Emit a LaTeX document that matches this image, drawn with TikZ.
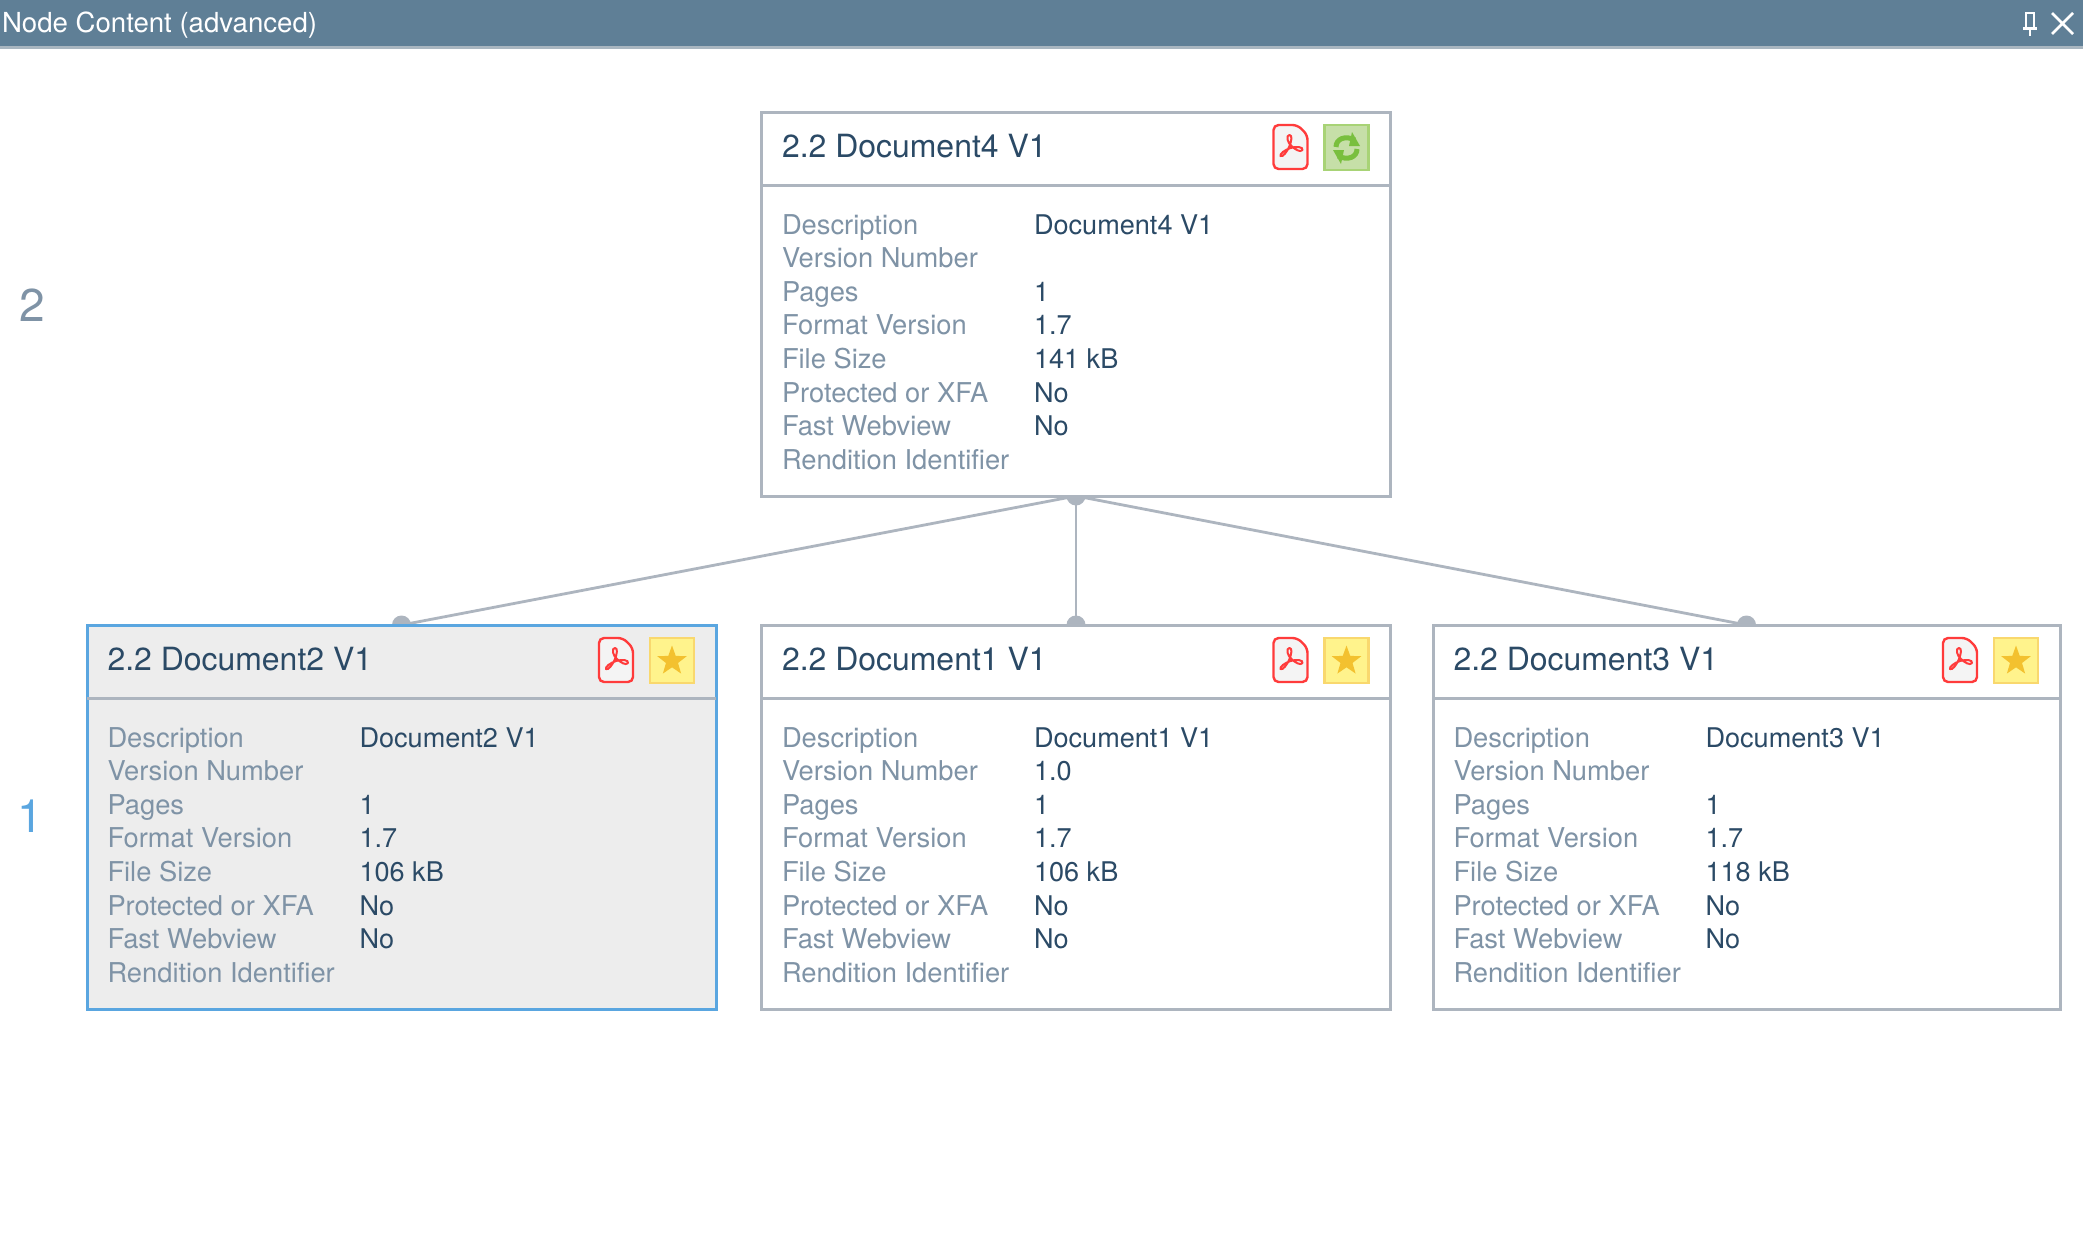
\documentclass[tikz,border=0pt]{standalone}
\usepackage{fontspec}
\setmainfont{TeX Gyre Heros}
\usetikzlibrary{shapes.geometric,backgrounds}
\definecolor{barblue}{HTML}{5F7F96}
\definecolor{barline}{HTML}{A9B6C0}
\definecolor{edgegray}{HTML}{ADB5BF}
\definecolor{selblue}{HTML}{5AA6E0}
\definecolor{selfill}{HTML}{EDEDED}
\definecolor{navy}{HTML}{2B4A66}
\definecolor{labgray}{HTML}{7F93A6}
\definecolor{pdfred}{HTML}{FF3B3B}
\definecolor{pdffill}{HTML}{F4F4F4}
\definecolor{starbox}{HTML}{FFF38C}
\definecolor{starline}{HTML}{F9D86E}
\definecolor{starfill}{HTML}{F3C12F}
\definecolor{greenbox}{HTML}{C6DFA8}
\definecolor{greenline}{HTML}{A8D376}
\definecolor{greenfill}{HTML}{79BF3E}
\tikzset{
  x=1pt,y=-1pt,
  docbox/.style={draw=edgegray,line width=3pt,fill=white,rectangle,anchor=north west,
    minimum width=629pt,minimum height=384pt,inner sep=0pt,outer sep=0pt},
  selbox/.style={docbox,draw=selblue,fill=selfill},
  txt/.style={inner sep=0pt,outer sep=0pt,anchor=base west},
  titletxt/.style={txt,text=navy,font=\fontsize{31.95}{32}\selectfont},
  labeltxt/.style={txt,text=labgray,font=\fontsize{27.3}{28}\selectfont},
  valuetxt/.style={txt,text=navy,font=\fontsize{27.1}{28}\selectfont},
  leveltxt/.style={inner sep=0pt,outer sep=0pt,font=\fontsize{46}{46}\selectfont},
  conn/.style={draw=edgegray,line width=2.8pt},
  portdot/.style={fill=edgegray},
  pdficon/.pic={
    \draw[pdfred,line width=2.4pt,fill=pdffill,rounded corners=5pt]
      (0,0) -- (24,0) -- (34,10) -- (34,44) -- (0,44) -- cycle;
    \draw[pdfred,line width=2pt,line cap=round,line join=round]
      (16,10) .. controls (12,10) and (14,18) .. (18,21)
      .. controls (21,24) and (27,28) .. (29,25)
      .. controls (30,22) and (23,21) .. (17,23)
      .. controls (11,25) and (6,29) .. (7,31)
      .. controls (9,33) and (14,26) .. (16,21)
      .. controls (18,16) and (19,10) .. (16,10);
  },
  staricon/.pic={
    \draw[starline,line width=2.4pt,fill=starbox] (0,0) rectangle (44,45);
    \node[star,star points=5,star point ratio=2.45,fill=starfill,inner sep=0pt,
      minimum size=31pt] (starshape) at (22,23) {};
  },
  refreshicon/.pic={
    \draw[greenline,line width=2.4pt,fill=greenbox] (0,0) rectangle (44,45);
    \draw[greenfill,line width=5pt] (11.5,22) .. controls (11.5,14) and (20.5,10) .. (30.5,15);
    \fill[greenfill] (27.5,7) -- (35.5,21) -- (24.5,21) -- cycle;
    \draw[greenfill,line width=5pt] (32.5,24) .. controls (32.5,32) and (23.5,36) .. (13.5,31);
    \fill[greenfill] (16.5,39) -- (8.5,25) -- (19.5,25) -- cycle;
  }
}
\newcommand{\docnode}[8]{%
  \node[#7] (#1) at (#2,#3) {};
  \draw[edgegray,line width=3pt] (#1.north west |- 0,#3+73) -- (#1.north east |- 0,#3+73);
  \node[titletxt] (#1title) at (#2+20.5,#3+45.5) {2.2 #4};
  \foreach \lab/\tag [count=\i from 0] in {Description/a,Version Number/b,Pages/c,Format Version/d,File Size/e,Protected or XFA/f,Fast Webview/g,Rendition Identifier/h}{
    \node[labeltxt] (#1lab\tag) at (#2+20.5,{#3+122+33.62*\i}) {\lab};
  }
  \node[valuetxt] (#1vala) at (#2+272.5,#3+122) {#4};
  \node[valuetxt] (#1valb) at (#2+272.5,#3+155.62) {#5};
  \node[valuetxt] (#1valc) at (#2+272.5,#3+189.24) {1};
  \node[valuetxt] (#1vald) at (#2+272.5,#3+222.86) {1.7};
  \node[valuetxt] (#1vale) at (#2+272.5,#3+256.48) {#6};
  \node[valuetxt] (#1valf) at (#2+272.5,#3+290.1) {No};
  \node[valuetxt] (#1valg) at (#2+272.5,#3+323.72) {No};
  \pic (#1pdf) at ([xshift=-117pt,yshift=-13pt]#1.north east) {pdficon};
  \pic (#1state) at ([xshift=-66pt,yshift=-13pt]#1.north east) {#8};
}
\begin{document}
\begin{tikzpicture}
\useasboundingbox (0,0) rectangle (2083,1250);
% title bar
\fill[barblue] (0,0) rectangle (2083,46);
\fill[barline] (0,46) rectangle (2083,49);
\node[txt,text=white,font=\fontsize{27.6}{28}\selectfont] (bartitle) at (2,32.5) {Node Content (advanced)};
% pin
\fill[white] (2023,27) rectangle (2037,29.5);
\draw[white,line width=2pt] (2026,13) rectangle (2034,28);
\fill[white] (2029,28) rectangle (2031,36);
% close
\draw[white,line width=2.6pt] (2052,13) -- (2073,34) (2073,13) -- (2052,34);
% levels
\node[leveltxt,text=labgray] (level2) at (32,305) {2};
\node[leveltxt,text=selblue] (level1) at (30.5,816) {1};
% cards
\docnode{top}{761.5}{112}{Document4 V1}{}{141 kB}{docbox}{refreshicon}
\docnode{left}{87}{625}{Document2 V1}{}{106 kB}{selbox}{staricon}
\docnode{mid}{761.5}{625}{Document1 V1}{1.0}{106 kB}{docbox}{staricon}
\docnode{right}{1433}{625}{Document3 V1}{}{118 kB}{docbox,minimum width=627pt}{staricon}
\begin{scope}[on background layer]
  \fill[white] (0,0) rectangle (2083,1250);
  \draw[conn] (top.south) -- (left.north);
  \draw[conn] (top.south) -- (mid.north);
  \draw[conn] (top.south) -- (right.north);
  \fill[portdot] (top.south) circle (9.5pt);
  \fill[portdot] (left.north) circle (9.5pt);
  \fill[portdot] (mid.north) circle (9.5pt);
  \fill[portdot] (right.north) circle (9.5pt);
\end{scope}
\end{tikzpicture}
\end{document}
